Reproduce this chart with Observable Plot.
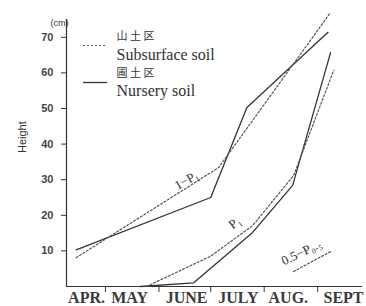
<!DOCTYPE html>
<html>
<head>
<meta charset="utf-8">
<script src="https://cdn.jsdelivr.net/npm/d3@7"></script>
<script src="https://cdn.jsdelivr.net/npm/@observablehq/plot@0.6"></script>
<style>
  html, body { margin: 0; padding: 0; background: #fff; }
</style>
</head>
<body>
<div id="chart"></div>
<script>
// x values are days counted from April 1
const months = ["APR.", "MAY", "JUNE", "JULY", "AUG.", "SEPT"];
const monthLabelDay = [19, 44, 77, 107, 136, 168];
const monthStartDay = [30, 61, 91, 122, 153];
const yTicks = [10, 20, 30, 40, 50, 60, 70];

// 1 - P1 curves
const nurseryUpperDay = [13, 91, 112, 159];
const nurseryUpperHeight = [10.3, 25, 50.3, 71.4];
const subsurfaceUpperDay = [13, 95.6, 160.5];
const subsurfaceUpperHeight = [8.1, 33.4, 77];

// P1 curves
const nurseryLowerDay = [50.3, 81, 115.3, 138.5, 160.5];
const nurseryLowerHeight = [0, 1, 15.2, 28.4, 65.7];
const subsurfaceLowerDay = [53.8, 90.9, 115.3, 139.1, 162.3];
const subsurfaceLowerHeight = [0, 8.5, 17.1, 31.2, 60.7];

// 0.5 - P0.5 key segment
const keyDay = [139, 160.5];
const keyHeight = [4.2, 9.8];

const legendJa = ["山 土 区", "圃 土 区"];
const legendEn = ["Subsurface soil", "Nursery soil"];
const curveLabels = ["1−P₁", "P₁", "0.5−P₀.₅"];
const curveLabelDay = [77, 105, 143.7];
const curveLabelHeight = [29.8, 17.9, 9.6];
const curveLabelRotate = [-29, -36, -26];

const pts = (xs, ys) => xs.map((x, i) => ({x, y: ys[i]}));

const serif = "'Liberation Serif', 'Times New Roman', serif";
const sans = "'Liberation Sans', Arial, sans-serif";
const ink = "#333";

const chart = Plot.plot({
  width: 366,
  height: 306,
  marginLeft: 66,
  marginRight: 4,
  marginTop: 19,
  marginBottom: 20,
  style: {fontFamily: serif, background: "#fff", color: ink},
  x: {type: "linear", domain: [7.4, 179], label: null},
  y: {domain: [0, 75], label: null},
  marks: [
    Plot.ruleY([0], {stroke: ink, strokeWidth: 1.2}),
    Plot.ruleX([7.4], {y1: 0, y2: 75, stroke: ink, strokeWidth: 1.2}),
    Plot.axisY({ticks: yTicks, tickSize: 5, tickPadding: 8, fontSize: 11, label: null,
      fontFamily: sans, fontWeight: "bold", fill: "#444", stroke: ink}),
    Plot.axisX({ticks: monthStartDay, tickSize: 6, tickFormat: () => "", label: null, stroke: ink}),
    Plot.text(months, {x: (d, i) => monthLabelDay[i], y: 0, dy: 11, fontSize: 16,
      fontFamily: serif, fontWeight: 600, fill: "#3a3a3a"}),
    Plot.text(["Height"], {frameAnchor: "left", dx: -44, rotate: -90, fontSize: 11,
      fontFamily: sans, fill: ink}),
    Plot.text(["(cm)"], {frameAnchor: "top-left", dx: -16, dy: 0, fontSize: 9,
      fontFamily: sans, fill: ink}),
    // curves
    Plot.line(pts(nurseryUpperDay, nurseryUpperHeight), {x: "x", y: "y", stroke: ink, strokeWidth: 1.3}),
    Plot.line(pts(subsurfaceUpperDay, subsurfaceUpperHeight), {x: "x", y: "y", stroke: "#555", strokeWidth: 1.2, strokeDasharray: "2,2"}),
    Plot.line(pts(nurseryLowerDay, nurseryLowerHeight), {x: "x", y: "y", stroke: ink, strokeWidth: 1.3}),
    Plot.line(pts(subsurfaceLowerDay, subsurfaceLowerHeight), {x: "x", y: "y", stroke: "#555", strokeWidth: 1.2, strokeDasharray: "2,2"}),
    Plot.line(pts(keyDay, keyHeight), {x: "x", y: "y", stroke: "#555", strokeWidth: 1.2, strokeDasharray: "2,2"}),
    // curve labels
    Plot.text(curveLabels, {x: (d, i) => curveLabelDay[i], y: (d, i) => curveLabelHeight[i],
      rotate: (d, i) => curveLabelRotate[i], fontSize: 13, fontFamily: serif, fill: ink}),
    // legend
    Plot.ruleY([67.7], {x1: 17.3, x2: 31.2, stroke: "#555", strokeWidth: 1.2, strokeDasharray: "2,2"}),
    Plot.ruleY([57.3], {x1: 17.3, x2: 31.2, stroke: ink, strokeWidth: 1.3}),
    Plot.text(legendJa, {x: 36.4, y: (d, i) => [70.2, 59.8][i], textAnchor: "start", fontSize: 11,
      fontFamily: "'Noto Sans CJK JP', sans-serif", fill: ink}),
    Plot.text(legendEn, {x: 36.4, y: (d, i) => [65.2, 55][i], textAnchor: "start", fontSize: 16,
      fontFamily: serif, fill: ink})
  ]
});
document.getElementById("chart").appendChild(chart);
</script>
</body>
</html>
